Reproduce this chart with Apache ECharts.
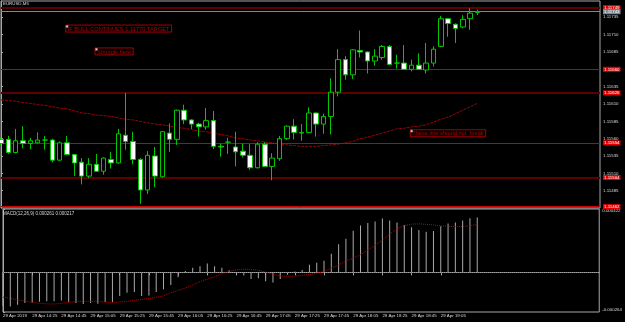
<!DOCTYPE html>
<html><head><meta charset="utf-8">
<script src="https://cdn.jsdelivr.net/npm/echarts@6/dist/echarts.min.js"></script>
<style>html,body{margin:0;padding:0;background:#000;}#c{width:625px;height:322px;}</style>
</head><body><div id="c"></div>
<script>
// ---- data ----
const tickLabels = ["29 Apr 2019","29 Apr 14:25","29 Apr 14:45","29 Apr 15:05","29 Apr 15:25","29 Apr 15:45","29 Apr 16:05","29 Apr 16:25","29 Apr 16:45","29 Apr 17:05","29 Apr 17:25","29 Apr 17:45","29 Apr 18:05","29 Apr 18:25","29 Apr 18:45","29 Apr 19:05","29 Apr 19:25"];
const opens = [1.11559,1.11559,1.11540,1.11557,1.11553,1.11554,1.11558,1.11558,1.11529,1.11554,1.11537,1.11526,1.11506,1.11523,1.11513,1.11530,1.11525,1.11565,1.11556,1.11530,1.11486,1.11535,1.11505,1.11568,1.11559,1.11601,1.11587,1.11581,1.11577,1.11586,1.11549,1.11555,1.11548,1.11542,1.11536,1.11518,1.11552,1.11520,1.11531,1.11560,1.11578,1.11568,1.11569,1.11597,1.11581,1.11592,1.11627,1.11674,1.11652,1.11687,1.11685,1.11672,1.11677,1.11693,1.11669,1.11669,1.11660,1.11666,1.11659,1.11669,1.11693,1.11733,1.11725,1.11721,1.11733,1.11742];
const closes = [1.11553,1.11540,1.11557,1.11553,1.11557,1.11558,1.11558,1.11529,1.11554,1.11537,1.11525,1.11506,1.11523,1.11513,1.11532,1.11525,1.11567,1.11556,1.11530,1.11486,1.11536,1.11506,1.11570,1.11559,1.11601,1.11587,1.11581,1.11577,1.11586,1.11549,1.11548,1.11555,1.11541,1.11536,1.11518,1.11552,1.11520,1.11532,1.11560,1.11578,1.11569,1.11569,1.11597,1.11581,1.11592,1.11627,1.11674,1.11652,1.11688,1.11685,1.11672,1.11679,1.11693,1.11667,1.11669,1.11660,1.11666,1.11660,1.11669,1.11689,1.11733,1.11726,1.11719,1.11732,1.11741,1.11743];
const lows = [1.11551,1.11538,1.11539,1.11546,1.11545,1.11553,1.11544,1.11526,1.11528,1.11536,1.11506,1.11494,1.11503,1.11512,1.11508,1.11517,1.11524,1.11544,1.11523,1.11466,1.11480,1.11490,1.11504,1.11541,1.11551,1.11581,1.11574,1.11563,1.11573,1.11545,1.11534,1.11538,1.11520,1.11533,1.11515,1.11517,1.11519,1.11500,1.11528,1.11558,1.11559,1.11557,1.11568,1.11563,1.11567,1.11566,1.11621,1.11645,1.11646,1.11677,1.11654,1.11665,1.11674,1.11666,1.11661,1.11659,1.11657,1.11659,1.11654,1.11664,1.11692,1.11707,1.11698,1.11719,1.11717,1.11738];
const highs = [1.11562,1.11564,1.11574,1.11578,1.11561,1.11569,1.11564,1.11560,1.11556,1.11564,1.11538,1.11532,1.11532,1.11538,1.11533,1.11541,1.11574,1.11626,1.11570,1.11532,1.11542,1.11548,1.11571,1.11582,1.11602,1.11609,1.11588,1.11583,1.11604,1.11600,1.11553,1.11561,1.11570,1.11553,1.11552,1.11555,1.11555,1.11539,1.11564,1.11579,1.11588,1.11581,1.11605,1.11598,1.11596,1.11647,1.11689,1.11679,1.11689,1.11716,1.11686,1.11689,1.11695,1.11695,1.11681,1.11695,1.11674,1.11683,1.11698,1.11693,1.11737,1.11734,1.11726,1.11738,1.11748,1.11746];
const maValues = [1.11616,1.11615,1.11614,1.11612,1.11611,1.11609,1.11608,1.11606,1.11604,1.11603,1.11600,1.11597,1.11596,1.11594,1.11593,1.11592,1.11590,1.11588,1.11587,1.11585,1.11583,1.11581,1.11580,1.11578,1.11576,1.11575,1.11573,1.11571,1.11570,1.11568,1.11566,1.11564,1.11561,1.11560,1.11558,1.11557,1.11555,1.11554,1.11552,1.11551,1.11550,1.11549,1.11549,1.11549,1.11550,1.11551,1.11552,1.11554,1.11556,1.11560,1.11562,1.11565,1.11568,1.11571,1.11574,1.11575,1.11577,1.11578,1.11580,1.11584,1.11588,1.11591,1.11596,1.11601,1.11606,1.11611];
// MACD in millionths
const macdHist = [-222,-227,-216,-204,-200,-195,-193,-193,-188,-197,-204,-211,-204,-209,-197,-197,-158,-136,-131,-158,-154,-131,-113,-85,-32,9,30,41,59,41,30,14,3,-21,-44,-39,-60,-67,-44,-16,5,16,50,64,78,124,188,224,277,312,328,339,358,346,332,316,300,282,270,275,307,325,332,346,360,365];
const macdSignal = [-165,-173,-183,-192,-200,-206,-210,-211,-206,-200,-195,-193,-193,-194,-198,-200,-197,-194,-186,-180,-175,-166,-156,-136,-120,-104,-85,-62,-45,-30,-8,6,17,21,19,14,2,-12,-25,-25,-25,-20,-15,-5,5,28,50,75,95,117,150,180,215,255,290,312,321,323,320,316,310,306,305,305,310,319];
const macdMin = -264, macdMax = 422;
const levelPrices = [1.11749, 1.11660, 1.11626, 1.11554, 1.11504, 1.11462];
const levelHeavy  = [true, false, true, false, true, false];
const bidPrice = 1.11743;
const annoIdx = [9, 13, 56];
const annoPrice = [1.11722, 1.11689, 1.11571];
const annoText = ["IF BULL CONTINUES 1.11770 TARGET", "Struggle here", "These line should not  break"];

// ---- build ----
const BASE = 111460;
const pts = p => Math.round(p * 1e5) - BASE;
const FONT = 'Liberation Sans, Arial, sans-serif';
const TXT = '#d8d8d8';
const GREEN = '#00c800';
const candleData = opens.map((o, i) => [i, pts(o), pts(closes[i]), pts(lows[i]), pts(highs[i])]);
const maData = maValues.map((v, i) => [i, pts(v)]);
const histData = macdHist.map((v, i) => [i, v]);
const sigData = macdSignal.map((v, i) => [i, v]);
const tickIdx = tickLabels.map((t, k) => k * 4);
const XMAX = 81.72;

const levelLines = levelPrices.map((p, k) => ({
  yAxis: pts(p),
  lineStyle: { color: levelHeavy[k] ? '#5c0000' : '#c80000', width: levelHeavy[k] ? 2 : 1, type: 'solid' },
  label: { show: true, position: 'end', distance: 3, formatter: p.toFixed(5), color: '#fff',
    backgroundColor: '#e00000', fontSize: 4.4, fontFamily: FONT, padding: [1, 1, 0, 1] }
}));
levelLines.push({
  yAxis: pts(bidPrice),
  lineStyle: { color: '#7a8a9a', width: 1, type: 'solid' },
  label: { show: true, position: 'end', distance: 3, formatter: bidPrice.toFixed(5), color: '#fff',
    backgroundColor: '#7a8a9a', fontSize: 4.4, fontFamily: FONT, padding: [1, 1, 0, 1] }
});

const chart = echarts.init(document.getElementById('c'), null, { renderer: 'canvas' });
chart.setOption({
  animation: false,
  backgroundColor: '#000',
  title: [
    { text: 'EURUSD,M5', left: 3, top: 2, padding: 0, textStyle: { color: TXT, fontSize: 4.4, fontWeight: 'normal', fontFamily: FONT } },
    { text: 'MACD(12,26,9) 0.000261 0.000217', left: 3, top: 211, padding: 0, textStyle: { color: TXT, fontSize: 4.5, fontWeight: 'normal', fontFamily: FONT } }
  ],
  grid: [
    { left: 1, right: 25, top: 1, bottom: 114, show: true, borderColor: '#a8a8a8', borderWidth: 1 },
    { left: 1, right: 25, top: 209, bottom: 10, show: true, borderColor: '#a8a8a8', borderWidth: 1 }
  ],
  xAxis: [
    { type: 'value', gridIndex: 0, min: 0, max: XMAX, interval: 4,
      axisLine: { show: false }, axisTick: { show: false }, axisLabel: { show: false }, splitLine: { show: false } },
    { type: 'value', gridIndex: 1, min: 0, max: XMAX, interval: 4,
      axisLine: { show: true, lineStyle: { color: '#a8a8a8' } },
      axisTick: { show: true, length: 3, lineStyle: { color: '#a8a8a8' }, customValues: tickIdx },
      axisLabel: { show: true, customValues: tickIdx, showMaxLabel: false, align: 'left', margin: 2, fontSize: 4.4, color: TXT, fontFamily: FONT,
        formatter: v => { const k = Math.round(v / 4); return (v % 4 === 0 && tickLabels[k]) ? tickLabels[k] : ''; } },
      splitLine: { show: false } }
  ],
  yAxis: [
    { type: 'value', gridIndex: 0, position: 'right', min: 0, max: 298.5, interval: 25,
      axisLine: { show: true, lineStyle: { color: '#a8a8a8' } },
      axisTick: { show: true, length: 2, lineStyle: { color: '#a8a8a8' } },
      axisLabel: { show: true, margin: 3, fontSize: 4.4, color: TXT, fontFamily: FONT, showMinLabel: false, showMaxLabel: false,
        formatter: v => ((BASE + v) / 1e5).toFixed(5) },
      splitLine: { show: false } },
    { type: 'value', gridIndex: 1, position: 'right', min: macdMin, max: macdMax, interval: 1000,
      axisLine: { show: true, lineStyle: { color: '#a8a8a8' } },
      axisTick: { show: true, length: 2, lineStyle: { color: '#a8a8a8' } },
      axisLabel: { show: true, margin: 3, fontSize: 4.4, color: TXT, fontFamily: FONT,
        verticalAlignMaxLabel: 'top', verticalAlignMinLabel: 'bottom',
        formatter: v => (v / 1e6).toFixed(6) },
      splitLine: { show: false } }
  ],
  series: [
    { type: 'line', name: 'MA', xAxisIndex: 0, yAxisIndex: 0, data: maData, showSymbol: false, silent: true,
      lineStyle: { color: '#a00000', width: 1, type: [3, 1] }, z: 2,
      markLine: { silent: true, symbol: ['none', 'none'], data: levelLines, z: 3 } },
    { type: 'candlestick', xAxisIndex: 0, yAxisIndex: 0,
      dimensions: ['x', 'open', 'close', 'lowest', 'highest'],
      encode: { x: 'x', y: ['open', 'close', 'lowest', 'highest'] },
      data: candleData, barWidth: 5, z: 4,
      itemStyle: { color: '#000', color0: '#fff', borderColor: GREEN, borderColor0: GREEN, borderColorDoji: GREEN, borderWidth: 1 } },
    { type: 'scatter', xAxisIndex: 0, yAxisIndex: 0, z: 6,
      data: annoIdx.map((ix, k) => [ix, pts(annoPrice[k])]),
      symbol: 'rect', symbolSize: 2.5, itemStyle: { color: '#fff' },
      label: { show: true, formatter: p => annoText[p.dataIndex], position: [0, 0], align: 'left', verticalAlign: 'top',
        color: '#e00000', fontSize: 5.7, lineHeight: 6, fontFamily: FONT, borderColor: '#d00000', borderWidth: 1, padding: [1, 2, 0, 2] } },
    { type: 'bar', xAxisIndex: 1, yAxisIndex: 1, data: histData, barWidth: 1, itemStyle: { color: '#aaaaaa' },
      markLine: { silent: true, symbol: ['none', 'none'], label: { show: false },
        data: [{ yAxis: 0 }], lineStyle: { color: '#6a7888', width: 1, type: 'dotted' } } },
    { type: 'line', xAxisIndex: 1, yAxisIndex: 1, data: sigData, showSymbol: false, silent: true,
      lineStyle: { color: '#c00000', width: 1, type: 'dotted' }, z: 5 }
  ]
});
</script></body></html>
